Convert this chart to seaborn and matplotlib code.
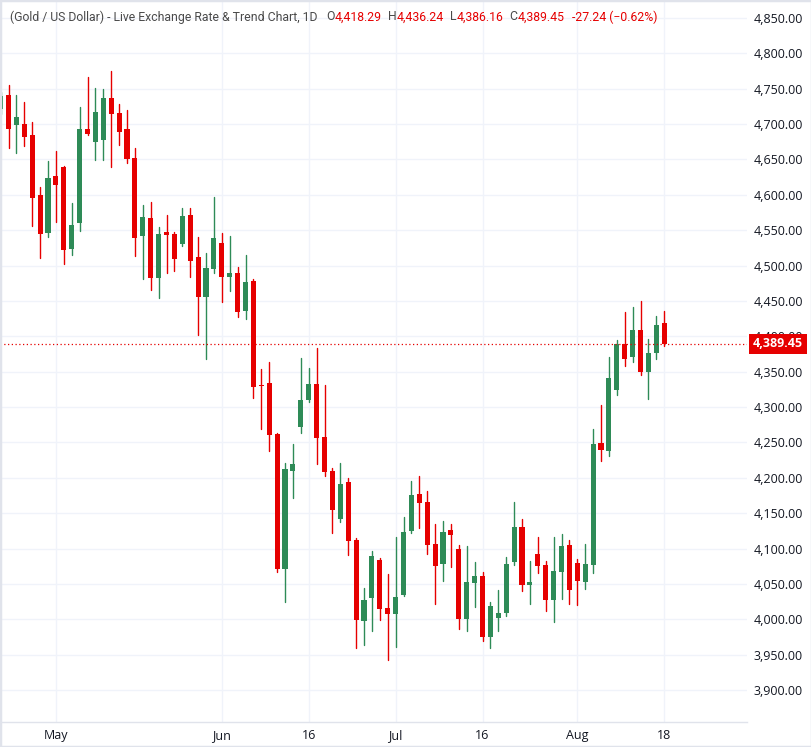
import numpy as np
import pandas as pd
import matplotlib
matplotlib.use("Agg")
import matplotlib.pyplot as plt
import matplotlib.transforms as mtransforms
from matplotlib.patches import Rectangle
import seaborn as sns

# ---------------- data ----------------
start_date = "2026-04-22"
opens = [4722.0, 4741.5, 4699.2, 4700.1, 4684.6, 4599.8, 4546.6, 4626.6, 4639.4, 4524.0,
         4560.7, 4693.0, 4675.1, 4678.0, 4736.8, 4715.6, 4693.0, 4652.1, 4541.9, 4567.3,
         4482.6, 4548.0, 4544.7, 4531.1, 4571.6, 4512.2, 4456.2, 4495.8, 4532.6, 4483.6,
         4490.2, 4435.6, 4477.5, 4330.6, 4333.4, 4261.4, 4071.2, 4209.1, 4271.8, 4310.0,
         4332.1, 4257.3, 4209.2, 4141.9, 4193.7, 4111.8, 3997.8, 4030.3, 4083.5, 4015.7,
         4007.7, 4034.6, 4125.1, 4176.9, 4165.6, 4106.3, 4078.5, 4126.1, 4099.2, 4000.9,
         4051.7, 4061.1, 3975.4, 4002.3, 4009.3, 4081.3, 4130.2, 4048.8, 4092.1, 4076.6,
         4027.6, 4067.1, 4104.8, 4079.4, 4053.0, 4077.2, 4248.6, 4237.8, 4323.7, 4389.4,
         4370.2, 4409.2, 4349.1, 4375.8, 4418.29]
highs = [4746.0, 4755.6, 4741.5, 4731.2, 4702.9, 4611.1, 4647.8, 4662.0, 4641.0, 4588.5,
         4724.1, 4766.5, 4750.9, 4749.5, 4775.0, 4728.3, 4719.9, 4666.2, 4585.7, 4590.0,
         4554.6, 4571.6, 4548.0, 4581.5, 4581.5, 4540.5, 4517.9, 4597.0, 4546.7, 4542.5,
         4497.3, 4515.6, 4481.7, 4353.2, 4363.1, 4263.0, 4220.4, 4247.3, 4368.7, 4354.7,
         4383.0, 4330.7, 4213.5, 4220.5, 4199.3, 4114.6, 4044.0, 4096.2, 4086.4, 4063.8,
         4116.0, 4144.3, 4195.3, 4202.4, 4181.2, 4134.6, 4138.8, 4134.6, 4104.9, 4103.5,
         4080.9, 4066.8, 4024.4, 4041.3, 4088.0, 4165.5, 4141.5, 4082.2, 4116.1, 4082.2,
         4116.1, 4120.3, 4111.9, 4085.0, 4106.2, 4268.3, 4303.5, 4371.1, 4395.1, 4434.5,
         4441.5, 4450.0, 4396.5, 4428.9, 4436.24]
lows = [4714.0, 4666.2, 4659.1, 4669.5, 4556.5, 4510.8, 4540.9, 4562.2, 4502.8, 4515.5,
        4548.5, 4685.0, 4649.7, 4649.7, 4639.8, 4670.4, 4645.5, 4513.7, 4481.6, 4466.1,
        4454.8, 4490.1, 4492.9, 4528.0, 4484.4, 4402.5, 4368.6, 4490.1, 4448.3, 4463.8,
        4427.1, 4424.3, 4312.7, 4268.9, 4237.9, 4066.9, 4024.6, 4171.5, 4263.3, 4307.6,
        4219.6, 4202.6, 4122.1, 4137.7, 4091.1, 3959.7, 3963.9, 3983.7, 3998.7, 3942.8,
        3961.1, 4033.2, 4122.3, 4128.9, 4092.7, 4022.0, 4054.5, 4074.3, 3986.7, 3983.9,
        4017.8, 3969.8, 3959.9, 3983.9, 4005.0, 4077.0, 4040.3, 4021.9, 4065.7, 4012.1,
        3996.5, 4029.0, 4021.9, 4020.5, 4043.1, 4065.9, 4223.7, 4230.7, 4316.7, 4357.5,
        4363.1, 4344.8, 4311.0, 4367.4, 4386.16]
closes = [4739.0, 4693.5, 4710.0, 4682.2, 4596.0, 4545.2, 4623.8, 4614.4, 4522.6, 4557.4,
          4693.0, 4686.4, 4717.0, 4736.8, 4714.7, 4689.3, 4651.1, 4539.1, 4568.7, 4482.6,
          4544.7, 4543.8, 4509.9, 4570.2, 4507.1, 4456.2, 4496.7, 4539.1, 4483.6, 4490.2,
          4434.2, 4476.1, 4328.3, 4329.2, 4260.5, 4071.2, 4212.0, 4219.0, 4309.4, 4332.1,
          4256.3, 4208.3, 4154.6, 4190.9, 4110.8, 3999.3, 4027.0, 4089.2, 4014.8, 4007.7,
          4031.3, 4123.1, 4175.5, 4164.7, 4105.4, 4075.7, 4123.3, 4119.5, 4000.9, 4052.6,
          4061.1, 3975.4, 4018.7, 4008.9, 4078.1, 4130.2, 4048.8, 4052.5, 4075.6, 4027.6,
          4068.1, 4103.4, 4041.7, 4054.4, 4078.0, 4247.2, 4239.2, 4341.5, 4389.4, 4367.4,
          4409.2, 4349.1, 4376.8, 4416.2, 4389.45]
tick_dates = ["2026-05-01", "2026-06-01", "2026-06-16", "2026-07-01",
              "2026-07-16", "2026-08-03", "2026-08-18"]
tick_labels = ["May", "Jun", "16", "Jul", "16", "Aug", "18"]
price_ticks = [3900, 3950, 4000, 4050, 4100, 4150, 4200, 4250, 4300, 4350, 4400,
               4450, 4500, 4550, 4600, 4650, 4700, 4750, 4800, 4850]
title_text = "(Gold / US Dollar) - Live Exchange Rate & Trend Chart, 1D"
ohlc_letters = ["O", "H", "L", "C"]
change_text = "-27.24 (\u22120.62%)"

# ---------------- style ----------------
UP = "#2e8b57"
DOWN = "#e60000"
GRID = "#f0f3fa"
TXT = "#131722"

sns.set_theme(style="white")
plt.rcParams["font.family"] = ["Open Sans", "DejaVu Sans"]

dates = pd.bdate_range(start_date, periods=len(opens))
df = pd.DataFrame({"date": dates, "open": opens, "high": highs,
                   "low": lows, "close": closes})
df["k"] = np.arange(len(df))
df["dir"] = np.where(df["close"] >= df["open"], "up", "down")

wicks = pd.concat([
    df[["k", "dir"]].assign(price=df["low"]),
    df[["k", "dir"]].assign(price=df["high"]),
]).sort_values("k")
wicks["cid"] = wicks["k"]

W, H = 812, 747
fig = plt.figure(figsize=(W / 100, H / 100), dpi=100)
fig.patch.set_facecolor("white")
ax = fig.add_axes([0, 25 / H, 747 / W, 722 / H])
ax.set_facecolor("white")

sns.lineplot(data=wicks, x="k", y="price", units="cid", hue="dir",
             palette={"up": UP, "down": DOWN}, estimator=None, sort=False,
             legend=False, linewidth=1.0, ax=ax, zorder=2)

body_bottom = np.minimum(df["open"], df["close"])
body_h = np.maximum(np.abs(df["close"] - df["open"]), 1.3)
ax.bar(df["k"], body_h, bottom=body_bottom, width=0.64,
       color=[UP if d == "up" else DOWN for d in df["dir"]],
       linewidth=0, zorder=3)

ax.set_xlim(-0.076, 94.48)
ax.set_ylim(3854.8, 4875.4)

tick_pos = [dates.get_loc(pd.Timestamp(d)) for d in tick_dates]
ax.set_xticks(tick_pos)
ax.set_xticklabels(tick_labels)
ax.set_yticks(price_ticks)
ax.set_yticklabels([f"{v:,.2f}" for v in price_ticks])
ax.yaxis.tick_right()
ax.tick_params(axis="y", length=0, pad=4.5, labelsize=9, colors=TXT)
ax.tick_params(axis="x", length=0, pad=5, labelsize=9, colors=TXT)
ax.set_xlabel("")
ax.set_ylabel("")
ax.grid(True, color=GRID, linewidth=1.0, zorder=0)
ax.set_axisbelow(True)
for s in ["top", "left", "right"]:
    ax.spines[s].set_visible(False)
ax.spines["bottom"].set_color("#e0e3eb")
ax.spines["bottom"].set_linewidth(1.0)

# last price line and label
last = closes[-1]
ax.axhline(last, color=DOWN, linewidth=0.9, linestyle=(0, (1, 2)), zorder=4)
trans = mtransforms.blended_transform_factory(ax.transAxes, ax.transData)
ax.text(1.0, last, f"{last:,.2f}",
        transform=trans + mtransforms.ScaledTranslation(6 / 100, 0, fig.dpi_scale_trans),
        ha="left", va="center", fontsize=9, color="white", fontweight="bold",
        bbox=dict(boxstyle="square,pad=0.28", fc=DOWN, ec="none"), clip_on=False, zorder=6)

# title line (fit the descriptive part to ~310 px like the reference)
renderer = fig.canvas.get_renderer()
ident = mtransforms.IdentityTransform()
y_title = H - 17
tfam = ["Roboto", "DejaVu Sans"]
probe = fig.text(0, 0, title_text, transform=ident, fontsize=9, family=tfam)
tw = probe.get_window_extent(renderer).width
probe.remove()
tsize = 9 * 310 / tw

x = 10
title_color = "#4a4a4a"
pieces = [(title_text, title_color, 0)]
vals = [opens[-1], highs[-1], lows[-1], closes[-1]]
for i, (letter, v) in enumerate(zip(ohlc_letters, vals)):
    pieces.append((letter, title_color, 9 if i == 0 else 6))
    pieces.append((f"{v:,.2f}", DOWN, 0))
pieces.append((change_text, DOWN, 8))
for s, c, gap in pieces:
    x += gap
    t = fig.text(x, y_title, s, transform=ident, ha="left", va="center",
                 fontsize=tsize, color=c, family=tfam)
    bb = t.get_window_extent(renderer)
    x = bb.x1

fig.patches.append(Rectangle((0, 0), 1, 1, transform=fig.transFigure, fill=False,
                             ec="#e0e3eb", lw=2.5, zorder=10))

fig.savefig("out.png", dpi=100, facecolor="white")
